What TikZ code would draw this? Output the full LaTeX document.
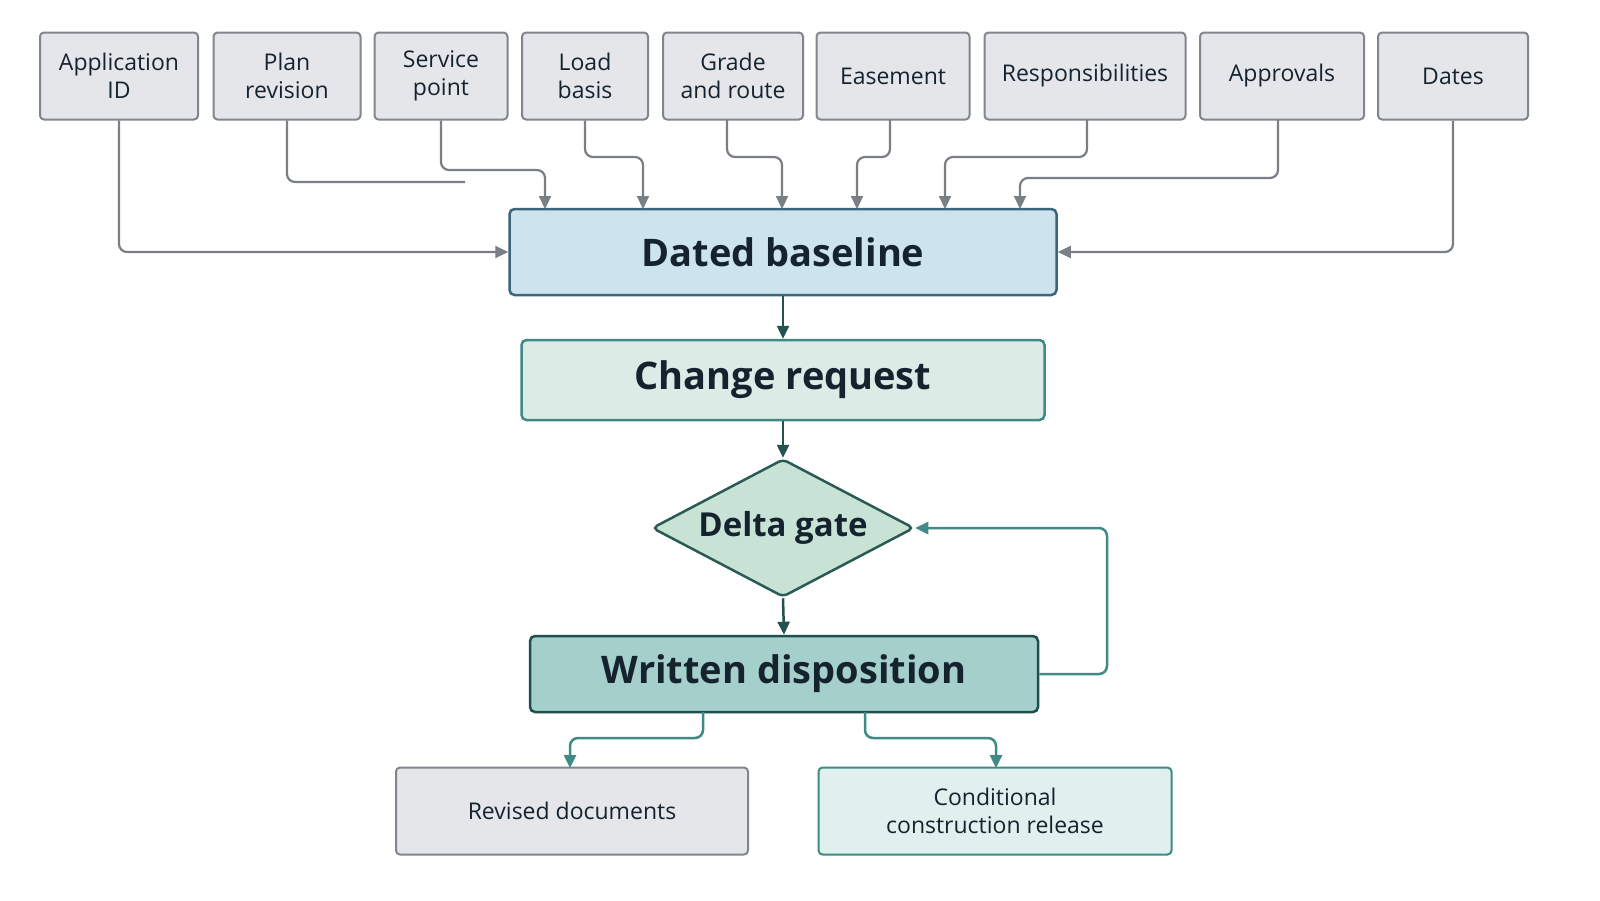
\documentclass[tikz,border=0pt]{standalone}
\usepackage{fontspec}
\setmainfont{Open Sans}
\usetikzlibrary{shapes.geometric,arrows.meta}
\definecolor{topfill}{HTML}{E4E6EA}
\definecolor{topdraw}{HTML}{80868C}
\definecolor{gline}{HTML}{7A7F85}
\definecolor{bfill}{HTML}{CDE4EE}
\definecolor{bdraw}{HTML}{3D6478}
\definecolor{cfill}{HTML}{DCEBE6}
\definecolor{cdraw}{HTML}{3F8A84}
\definecolor{dfill}{HTML}{C9E2D6}
\definecolor{ddraw}{HTML}{2B5A55}
\definecolor{wfill}{HTML}{A4CFCB}
\definecolor{wdraw}{HTML}{1F4F4C}
\definecolor{tline}{HTML}{3F8A84}
\definecolor{dline}{HTML}{24524F}
\definecolor{rfill}{HTML}{E0F0EE}
\definecolor{txt}{HTML}{15232E}
\tikzset{
 topbox/.style={draw=topdraw,fill=topfill,line width=2pt,rounded corners=4pt,align=center,text=txt,font=\fontsize{23}{28}\selectfont,inner sep=0pt},
 bigbox/.style={line width=2.5pt,rounded corners=5pt,align=center,text=txt,font=\fontsize{38}{42}\selectfont\bfseries,inner sep=0pt},
 gar/.style={draw=gline,line width=2.2pt,-{Triangle[length=13pt,width=12pt]},rounded corners=8pt},
 gln/.style={draw=gline,line width=2.2pt,rounded corners=8pt},
 dar/.style={draw=dline,line width=2.5pt,-{Triangle[length=13pt,width=12pt]}},
 tar/.style={draw=tline,line width=2.5pt,-{Triangle[length=13pt,width=12pt]},rounded corners=8pt},
}
\begin{document}
\begin{tikzpicture}[x=1pt,y=-1pt]
\useasboundingbox[fill=white] (0,0) rectangle (1600,900);
\node[topbox,minimum width=158,minimum height=87] (app) at (119,76) {Application\\ID};
\node[topbox,minimum width=147,minimum height=87] (plan) at (287,76) {Plan\\revision};
\node[topbox,minimum width=133,minimum height=87] (serv) at (441,76) {Service\\point};
\node[topbox,minimum width=126,minimum height=87] (load) at (585,76) {Load\\basis};
\node[topbox,minimum width=140,minimum height=87] (grade) at (733,76) {Grade\\and route};
\node[topbox,minimum width=153,minimum height=87] (ease) at (893,76) {Easement};
\node[topbox,minimum width=201,minimum height=87] (resp) at (1085,76) {Responsibilities};
\node[topbox,minimum width=164,minimum height=87] (appr) at (1282,76) {Approvals};
\node[topbox,minimum width=150,minimum height=87] (dates) at (1453,76) {Dates};

\node[bigbox,draw=bdraw,fill=bfill,minimum width=547,minimum height=86] (base) at (783,252) {Dated baseline};
\node[bigbox,draw=cdraw,fill=cfill,minimum width=523,minimum height=80] (chg) at (783,380) {Change request};
\node[bigbox,draw=ddraw,fill=dfill,diamond,aspect=1.9,minimum width=262,minimum height=138,font=\fontsize{33}{36}\selectfont\bfseries] (gate) at (783,528) {Delta gate};
\node[bigbox,draw=wdraw,fill=wfill,minimum width=508,minimum height=76] (wd) at (784,674) {Written disposition};
\node[topbox,minimum width=352,minimum height=87] (rev) at (572,811) {Revised documents};
\node[topbox,draw=cdraw,fill=rfill,minimum width=353,minimum height=87] (ccr) at (995,811) {Conditional\\construction release};

\coordinate (pend) at (465,182);
\draw[gar] (app.south) |- (base.west);
\draw[gar] (dates.south) |- (base.east);
\draw[gln] (plan.south) |- (pend);
\draw[gar] (serv.south) -- (441,170) -- (545,170) -- (545,209);
\draw[gar] (load.south) -- (585,157) -- (643,157) -- (643,209);
\draw[gar] (727,120) -- (727,157) -- (782,157) -- (782,209);
\draw[gar] (890,120) -- (890,157) -- (857,157) -- (857,209);
\draw[gar] (1087,120) -- (1087,157) -- (945,157) -- (945,209);
\draw[gar] (1278,120) -- (1278,178) -- (1020,178) -- (1020,209);

\draw[dar] (base.south) -- (chg.north);
\draw[dar] (chg.south) -- (gate.north);
\draw[dar] (gate.south) -- (wd.north);
\draw[tar] (wd.east) -- (1107,674) -- (1107,528) -- (gate.east);
\draw[tar] (703,712) -- (703,738) -- (570,738) -- (570,768);
\draw[tar] (865,712) -- (865,738) -- (996,738) -- (996,768);
\end{tikzpicture}
\end{document}
